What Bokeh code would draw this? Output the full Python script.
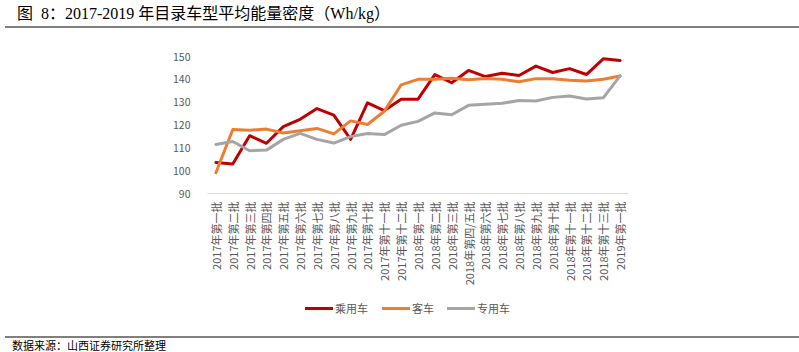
from bokeh.plotting import figure
from bokeh.models import FactorRange, Range1d, FixedTicker, Div
from bokeh.layouts import column
from bokeh.embed import file_html
from bokeh.resources import INLINE
import math

categories = [
    "2017年第一批", "2017年第二批", "2017年第三批", "2017年第四批", "2017年第五批",
    "2017年第六批", "2017年第七批", "2017年第八批", "2017年第九批", "2017年第十批",
    "2017年第十一批", "2017年第十二批",
    "2018年第一批", "2018年第二批", "2018年第三批", "2018年第四/五批", "2018年第六批",
    "2018年第七批", "2018年第八批", "2018年第九批", "2018年第十批", "2018年第十一批",
    "2018年第十二批", "2018年第十三批",
    "2019年第一批",
]
passenger = [103.6, 102.9, 115.3, 112.0, 119.3, 122.5, 127.2, 124.3, 113.7, 129.7,
             126.3, 131.3, 131.3, 142.1, 138.5, 143.9, 141.2, 142.7, 141.7, 145.8,
             143.0, 144.7, 142.1, 149.0, 148.2]
bus = [99.1, 118.0, 117.7, 118.2, 116.5, 117.5, 118.5, 116.1, 121.8, 120.2,
       126.0, 137.6, 140.0, 140.0, 140.5, 139.8, 140.4, 140.0, 138.9, 140.3,
       140.3, 139.6, 139.3, 140.0, 141.5]
special = [111.5, 112.8, 108.7, 109.0, 113.7, 116.3, 113.7, 112.1, 114.9, 116.3,
           115.8, 119.9, 121.6, 125.3, 124.5, 128.6, 129.1, 129.5, 130.7, 130.5,
           132.1, 132.7, 131.4, 131.9, 141.5]
series_names = ["乘用车", "客车", "专用车"]
series_colors = ["#C00000", "#ED7D31", "#A5A5A5"]
y_ticks = [90, 100, 110, 120, 130, 140, 150]

title_text = "图&nbsp;&nbsp;8：2017-2019 年目录车型平均能量密度（Wh/kg）"
source_text = "数据来源：山西证券研究所整理"

title_div = Div(
    text=(
        '<div style="margin-left:5px;width:794px;height:28px;padding-top:4px;'
        'border-bottom:2px solid #7f7f7f;font-family:\'Liberation Serif\',\'Noto Sans CJK SC\',serif;'
        'font-size:16px;line-height:20px;color:#000;white-space:nowrap;">'
        '<span style="padding-left:12px;">' + title_text + '</span></div>'
    ),
    width=799, height=34, margin=(0, 0, 0, 0),
)

p = figure(
    x_range=FactorRange(*categories), y_range=Range1d(90, 150),
    width=799, height=264, output_backend="svg", toolbar_location=None,
    min_border_left=207, min_border_right=171, min_border_top=22, min_border_bottom=105,
)
p.outline_line_color = None
p.xgrid.visible = False
p.ygrid.visible = False
p.background_fill_color = "white"
p.border_fill_color = "white"

for vals, c in zip([passenger, bus, special], series_colors):
    p.line(x=categories, y=vals, line_color=c, line_width=3,
           line_join="round", line_cap="round")

p.yaxis.ticker = FixedTicker(ticks=y_ticks)
p.yaxis.axis_line_color = None
p.yaxis.major_tick_line_color = None
p.yaxis.minor_tick_line_color = None
p.yaxis.major_label_standoff = 11
p.yaxis.major_label_text_font = "Noto Sans CJK SC"
p.yaxis.major_label_text_font_size = "10.5px"
p.yaxis.major_label_text_color = "#595959"

p.xaxis.axis_line_color = "#d9d9d9"
p.xaxis.axis_line_width = 1
p.xaxis.major_tick_line_color = None
p.xaxis.minor_tick_line_color = None
p.xaxis.major_tick_out = 0
p.xaxis.major_label_standoff = 8
p.xaxis.major_label_orientation = math.pi / 2
p.xaxis.major_label_text_font = "Noto Sans CJK SC"
p.xaxis.major_label_text_font_size = "11px"
p.xaxis.major_label_text_color = "#595959"

legend_x = [305, 382, 447]
legend_html = '<div style="position:relative;width:799px;height:38px;">'
for name, c, lx in zip(series_names, series_colors, legend_x):
    legend_html += (
        '<div style="position:absolute;left:%dpx;top:9px;width:28px;height:3px;background:%s;"></div>'
        '<div style="position:absolute;left:%dpx;top:2px;font-family:\'Noto Sans CJK SC\',sans-serif;'
        'font-size:11px;line-height:16px;color:#595959;white-space:nowrap;">%s</div>'
        % (lx, c, lx + 30, name)
    )
legend_html += '</div>'
legend_div = Div(text=legend_html, width=799, height=38, margin=(0, 0, 0, 0))

source_div = Div(
    text=(
        '<div style="margin-left:5px;width:794px;height:14px;border-top:2px solid #7f7f7f;'
        'font-family:\'Noto Sans CJK SC\',sans-serif;font-size:11px;'
        'line-height:13px;color:#000;white-space:nowrap;">'
        '<div style="padding-top:1px;padding-left:7px;">' + source_text + '</div></div>'
    ),
    width=799, height=16, margin=(0, 0, 0, 0),
)

layout = column(title_div, p, legend_div, source_div, spacing=0)
open("out.html", "w").write(file_html(layout, INLINE))
